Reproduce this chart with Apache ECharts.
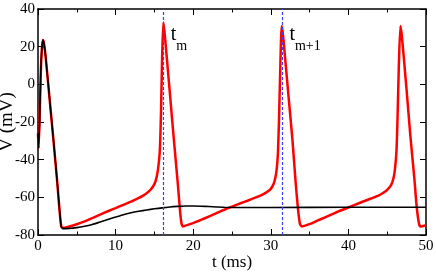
<!DOCTYPE html>
<html>
<head>
<meta charset="utf-8">
<script src="https://cdn.jsdelivr.net/npm/echarts@6/dist/echarts.min.js"></script>
<style>
html,body{margin:0;padding:0;background:#fff;}
#c{width:436px;height:273px;}
</style>
</head>
<body>
<div id="c"></div>
<script>
// ---- data ----
const redT = [0,0.07,0.2,0.35,0.5,0.65,0.8,1.0,1.5,2.0,2.5,2.8,3.0,3.2,4,5,6,7,8,9,10,11,12,13,13.5,14,14.5,15,15.3,15.5,15.7,15.85,16.0,16.15,16.3,16.6,17.0,17.5,18.0,18.3,18.5,18.7,19,20,21,22,23,24,25,26,27,28,29,29.5,30,30.4,30.7,30.9,31.05,31.2,31.4,31.55,31.8,32.3,32.8,33.2,33.5,33.75,34,35,36,37,38,39,40,41,42,43,44,44.5,45,45.5,45.8,46.0,46.2,46.35,46.5,46.7,46.85,47.1,47.5,48.0,48.5,48.8,49.1,49.3,50];
const redV = [-26,-34,-20,5,19,23.5,21,14,-8,-30,-53,-68,-75.5,-76.2,-75.5,-74.3,-72.8,-71,-69.2,-67.4,-65.7,-64,-62.3,-60.3,-59.2,-57.8,-56,-53,-49,-44,-35,-15,15,32.8,28,14,-5,-29,-52,-67,-74,-75.5,-75,-73.7,-72,-70.2,-68.4,-66.6,-64.9,-63.3,-61.8,-60.2,-58.4,-57.2,-55.5,-52.5,-47,-38,-20,5,31,27,16,-7,-30,-52,-66,-74,-75.5,-74.2,-72.4,-70.6,-68.8,-67,-65.4,-63.7,-62.1,-60.5,-58.8,-57.6,-56,-53.5,-50,-45,-35,-15,10,31,27,16,-3,-28,-50,-65,-74,-75.5,-74.8];
const blackT = [0,0.07,0.2,0.35,0.5,0.65,0.8,1.0,1.5,2.0,2.5,2.8,3.0,3.2,4,5,6,7,8,9,10,11,12,13,14,15,16,17,18,19,20,21,22,23,24,26,30,40,50];
const blackV = [-26,-34,-20,5,19,23.5,21,14,-8,-30,-53,-68,-75.5,-76.6,-76.5,-76.1,-75.4,-74.4,-73.1,-71.8,-70.5,-69.2,-68.2,-67.4,-66.7,-66.1,-65.6,-65.1,-64.8,-64.6,-64.6,-64.7,-64.9,-65.1,-65.3,-65.4,-65.4,-65.3,-65.3];
const markTimes = [16.2, 31.5];
const markSubs = ['m', 'm+1'];
const xTicks = [0,10,20,30,40,50];
const yTicks = [-80,-60,-40,-20,0,20,40];

const FONT = 'Liberation Serif';
const zip = (a,b) => a.map((v,i)=>[v,b[i]]);

const chart = echarts.init(document.getElementById('c'), null, {renderer:'canvas'});

const baseX = {
  type:'value', min:xTicks[0], max:xTicks[xTicks.length-1], interval:10,
  axisLine:{show:true, onZero:false, lineStyle:{color:'#000', width:1.5}},
  axisTick:{show:true, inside:true, length:6, lineStyle:{color:'#000', width:1}},
  minorTick:{show:true, splitNumber:2, length:3.5, lineStyle:{color:'#000', width:1}},
  splitLine:{show:false}
};
const baseY = {
  type:'value', min:yTicks[0], max:yTicks[yTicks.length-1], interval:20,
  axisLine:{show:true, onZero:false, lineStyle:{color:'#000', width:1.5}},
  axisTick:{show:true, inside:true, length:6, lineStyle:{color:'#000', width:1}},
  splitLine:{show:false}
};

const markStyle = {color:'#3c3cff', width:1.2, type:[3,2]};

chart.setOption({
  animation:false,
  backgroundColor:'#fff',
  grid:{left:38, right:10, top:9, bottom:38, containLabel:false, outerBoundsMode:'none'},
  xAxis:[
    Object.assign({}, baseX, {position:'bottom',
      axisLabel:{show:true, color:'#000', fontFamily:FONT, fontSize:15, margin:4},
      name:'t (ms)', nameLocation:'middle', nameGap:19, nameMoveOverlap:false,
      nameTextStyle:{color:'#000', fontFamily:FONT, fontSize:17}}),
    Object.assign({}, baseX, {position:'top', axisLabel:{show:false}})
  ],
  yAxis:[
    Object.assign({}, baseY, {position:'left',
      axisLabel:{show:true, color:'#000', fontFamily:FONT, fontSize:15, margin:3},
      name:'V (mV)', nameLocation:'middle', nameGap:21, nameMoveOverlap:false,
      nameTextStyle:{color:'#000', fontFamily:FONT, fontSize:19}}),
    Object.assign({}, baseY, {position:'right', axisLabel:{show:false}})
  ],
  series:[
    {type:'line', name:'marks', xAxisIndex:0, yAxisIndex:0, data:[], z:1,
     itemStyle:{color:'#3c3cff'}, lineStyle:{color:'#3c3cff'},
     markLine:{silent:true, symbol:'none', label:{show:false}, lineStyle:markStyle,
       data: markTimes.map(t=>({xAxis:t, lineStyle:markStyle}))}},
    {type:'line', xAxisIndex:0, yAxisIndex:0, data:zip(redT, redV), showSymbol:false, smooth:0.2,
     lineStyle:{color:'#ff0000', width:2.5}, z:2},
    {type:'line', xAxisIndex:0, yAxisIndex:0, data:zip(blackT, blackV), showSymbol:false, smooth:0.2,
     lineStyle:{color:'#000', width:1.6}, z:3}
  ]
});

const g = [];
markTimes.forEach((t,i)=>{
  const p = chart.convertToPixel({xAxisIndex:0, yAxisIndex:0}, [t, 40]);
  g.push({type:'text', x:p[0]+7, y:p[1]+26, style:{text:'t', fill:'#000', font:'20px "'+FONT+'"', textVerticalAlign:'middle', verticalAlign:'middle'}});
  g.push({type:'text', x:p[0]+12.5, y:p[1]+37.5, style:{text:markSubs[i], fill:'#000', font:'14px "'+FONT+'"', textVerticalAlign:'middle', verticalAlign:'middle'}});
});
chart.setOption({graphic:g});
</script>
</body>
</html>
